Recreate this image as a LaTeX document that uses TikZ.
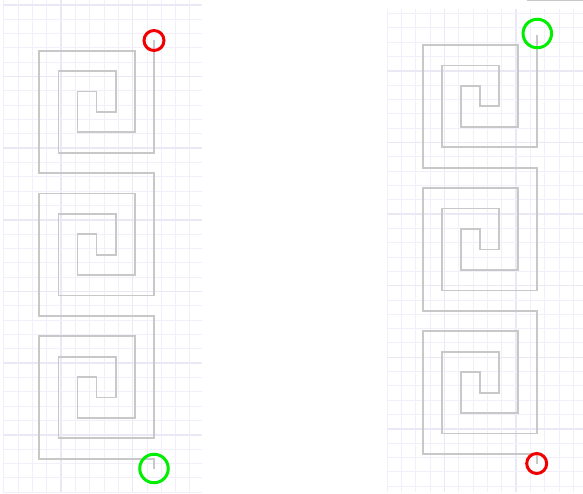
\documentclass[tikz,border=0pt]{standalone}
\definecolor{gminor}{HTML}{F1EFF9}
\definecolor{gmajor}{HTML}{EAE8F4}
\definecolor{spir}{HTML}{C8C8C8}
\definecolor{mred}{HTML}{F00000}
\definecolor{mgreen}{HTML}{00EE00}
\tikzset{
  minorline/.style={draw=gminor, line width=1pt},
  majorline/.style={draw=gmajor, line width=1.6pt},
  spiralline/.style={draw=spir, line width=1.7pt},
  redring/.style={draw=mred, line width=3pt},
  greenring/.style={draw=mgreen, line width=3pt}
}
\begin{document}
\begin{tikzpicture}[x=1pt,y=-1pt]
\useasboundingbox (0,0) rectangle (583,494);
\fill[white] (0,0) rectangle (583,494);
% left grid
\foreach \k in {0,...,13}{
  \pgfmathsetmacro\xx{3.7+14.33*\k}
  \pgfmathtruncatemacro\mm{mod(\k,5)}
  \ifnum\mm=4 \draw[majorline] (\xx,0) -- (\xx,492); \else \draw[minorline] (\xx,0) -- (\xx,492); \fi
}
\foreach \k in {0,...,34}{
  \pgfmathsetmacro\yy{5+14.33*\k}
  \pgfmathtruncatemacro\mm{mod(\k,5)}
  \ifnum\mm=0 \draw[majorline] (3,\yy) -- (202,\yy); \else \draw[minorline] (3,\yy) -- (202,\yy); \fi
}
% right grid
\foreach \k in {0,...,13}{
  \pgfmathsetmacro\xx{387.3+14.33*\k}
  \pgfmathtruncatemacro\mm{mod(\k,5)}
  \ifnum\mm=4 \draw[majorline] (\xx,9) -- (\xx,492); \else \draw[minorline] (\xx,9) -- (\xx,492); \fi
}
\foreach \k in {0,...,33}{
  \pgfmathsetmacro\yy{13.4+14.33*\k}
  \pgfmathtruncatemacro\mm{mod(\k,5)}
  \ifnum\mm=4 \draw[majorline] (387,\yy) -- (583,\yy); \else \draw[minorline] (387,\yy) -- (583,\yy); \fi
}
% top bar
\draw[spiralline] (527,0.6) -- (583,0.6);
% left spiral
\begin{scope}[shift={(39.3pt,-50.7pt)}, x=19.1pt, y=-20.4pt]
\draw[spiralline] (6,-0.5)
  -- (6,5) -- (1,5) -- (1,1) -- (4,1) -- (4,3) -- (3,3) -- (3,2) -- (2,2) -- (2,4) -- (5,4) -- (5,0) -- (0,0) -- (0,6) -- (6,6)
  -- (6,12) -- (1,12) -- (1,8) -- (4,8) -- (4,10) -- (3,10) -- (3,9) -- (2,9) -- (2,11) -- (5,11) -- (5,7) -- (0,7) -- (0,13) -- (6,13)
  -- (6,19) -- (1,19) -- (1,15) -- (4,15) -- (4,17) -- (3,17) -- (3,16) -- (2,16) -- (2,18) -- (5,18) -- (5,14) -- (0,14) -- (0,20) -- (6,20)
  -- (6,20.5);
\end{scope}
% right spiral
\begin{scope}[shift={(423.3pt,-45pt)}, x=19.0pt, y=-20.45pt]
\draw[spiralline] (6,-0.5)
  -- (6,5) -- (1,5) -- (1,1) -- (4,1) -- (4,3) -- (3,3) -- (3,2) -- (2,2) -- (2,4) -- (5,4) -- (5,0) -- (0,0) -- (0,6) -- (6,6)
  -- (6,12) -- (1,12) -- (1,8) -- (4,8) -- (4,10) -- (3,10) -- (3,9) -- (2,9) -- (2,11) -- (5,11) -- (5,7) -- (0,7) -- (0,13) -- (6,13)
  -- (6,19) -- (1,19) -- (1,15) -- (4,15) -- (4,17) -- (3,17) -- (3,16) -- (2,16) -- (2,18) -- (5,18) -- (5,14) -- (0,14) -- (0,20) -- (6,20)
  -- (6,20.5);
\end{scope}
% rings
\node[redring, circle, minimum size=20pt, inner sep=0pt] (lstart) at (154,40.5) {};
\node[greenring, circle, minimum size=28.5pt, inner sep=0pt] (lend) at (154,468.5) {};
\node[greenring, circle, minimum size=28.5pt, inner sep=0pt] (rstart) at (537.3,33.5) {};
\node[redring, circle, minimum size=20pt, inner sep=0pt] (rend) at (536.7,463.5) {};
\end{tikzpicture}
\end{document}
